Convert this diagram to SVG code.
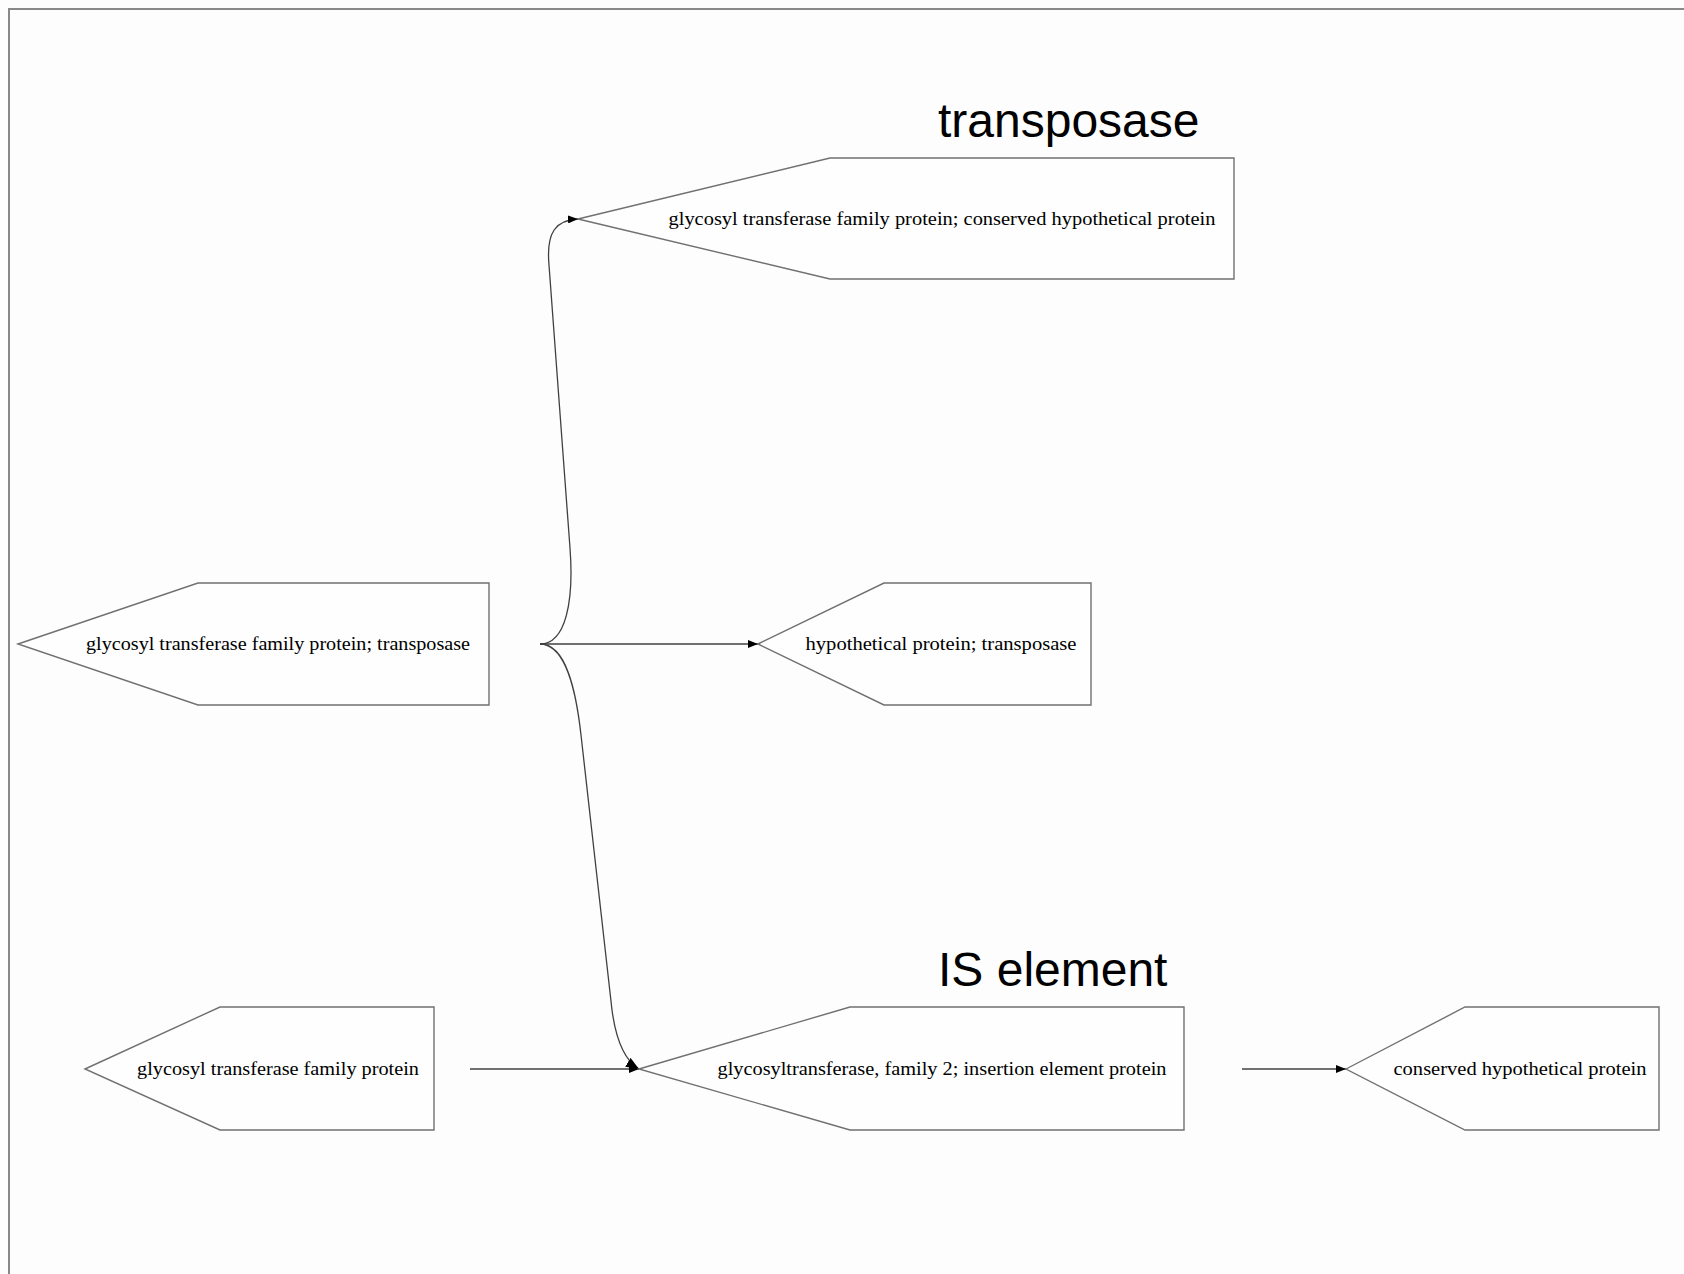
<svg xmlns="http://www.w3.org/2000/svg" width="1684" height="1274" viewBox="0 0 1684 1274">
<style>
.node{fill:#fdfefd;stroke:#707070;stroke-width:1.4}
.lbl{font-family:"Liberation Serif","Times New Roman",serif;font-size:18px;fill:#000;text-anchor:middle}
.big{font-family:"Liberation Sans",Arial,sans-serif;font-size:48px;fill:#000}
.edge{fill:none;stroke:#404040;stroke-width:1.3}
</style>
<defs>
<marker id="arr" viewBox="0 0 10 8" refX="10" refY="4" markerWidth="10" markerHeight="8" markerUnits="userSpaceOnUse" orient="auto">
<path d="M0,0 L10,4 L0,8 Z" fill="#000"/>
</marker>
<marker id="arrL" viewBox="0 0 10 8" refX="10" refY="4" markerWidth="13" markerHeight="11" markerUnits="userSpaceOnUse" orient="auto">
<path d="M0,0 L10,4 L0,8 Z" fill="#000"/>
</marker>
</defs>
<rect x="0" y="0" width="1684" height="1274" fill="#fcfdfc"/>
<path d="M9,1274 L9,9 L1684,9" fill="none" stroke="#888" stroke-width="2"/>
<text class="big" x="938" y="137">transposase</text>
<text class="big" x="938" y="986">IS element</text>
<g id="edges">
<path class="edge" d="M540,644 C566,644 574,601 570,548 L549,265 C546,232 556,220 578,219" marker-end="url(#arr)"/>
<path class="edge" d="M540,644 L758,644" marker-end="url(#arr)"/>
<path class="edge" d="M540,644 C566,644 576,690 581,735 L612,1010 C616,1040 624,1060 639,1069" marker-end="url(#arrL)"/>
<path class="edge" d="M470,1069 L639,1069" marker-end="url(#arr)"/>
<path class="edge" d="M1242,1069 L1346,1069" marker-end="url(#arr)"/>
</g>
<g id="nodeA">
<path class="node" d="M578,219 L830,158 L1234,158 L1234,279 L830,279 Z"/>
<text class="lbl" x="942" y="225" textLength="547" lengthAdjust="spacingAndGlyphs">glycosyl transferase family protein; conserved hypothetical protein</text>
</g>
<g id="nodeB">
<path class="node" d="M18,644 L198,583 L489,583 L489,705 L198,705 Z"/>
<text class="lbl" x="278" y="650" textLength="384" lengthAdjust="spacingAndGlyphs">glycosyl transferase family protein; transposase</text>
</g>
<g id="nodeC">
<path class="node" d="M758,644 L884,583 L1091,583 L1091,705 L884,705 Z"/>
<text class="lbl" x="941" y="650" textLength="271" lengthAdjust="spacingAndGlyphs">hypothetical protein; transposase</text>
</g>
<g id="nodeD">
<path class="node" d="M85,1069 L220,1007 L434,1007 L434,1130 L220,1130 Z"/>
<text class="lbl" x="278" y="1075" textLength="282" lengthAdjust="spacingAndGlyphs">glycosyl transferase family protein</text>
</g>
<g id="nodeE">
<path class="node" d="M639,1069 L850,1007 L1184,1007 L1184,1130 L850,1130 Z"/>
<text class="lbl" x="942" y="1075" textLength="449" lengthAdjust="spacingAndGlyphs">glycosyltransferase, family 2; insertion element protein</text>
</g>
<g id="nodeF">
<path class="node" d="M1346,1069 L1465,1007 L1659,1007 L1659,1130 L1465,1130 Z"/>
<text class="lbl" x="1520" y="1075" textLength="253" lengthAdjust="spacingAndGlyphs">conserved hypothetical protein</text>
</g>
</svg>
